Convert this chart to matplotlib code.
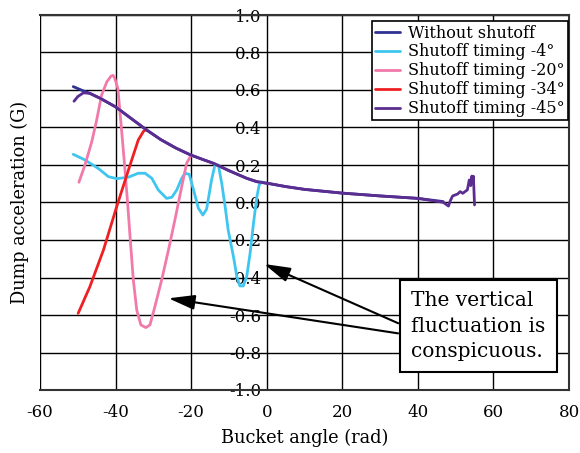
import matplotlib
matplotlib.use("Agg")
import matplotlib.pyplot as plt

plt.rcParams['font.family'] = ['DejaVu Serif']
plt.rcParams['axes.unicode_minus'] = False

# Data
main_x = [-51.2, -48.5, -46.8, -44.0, -40.0, -36.0, -31.8, -28.0, -24.0, -20.3, -17.0, -14.1, -10.0, -5.3, -2.6, 0.9, 5.0, 10.0, 20.0, 30.0, 40.0, 46.7]
main_y = [0.618, 0.595, 0.582, 0.555, 0.51, 0.45, 0.387, 0.335, 0.29, 0.255, 0.23, 0.209, 0.17, 0.129, 0.111, 0.10, 0.085, 0.07, 0.05, 0.035, 0.022, 0.005]

p45_x = [-51.0, -50.0, -48.5, -46.8, -44.0, -40.0, -36.0, -31.8, -28.0, -24.0, -20.3, -17.0, -14.1, -10.0, -5.3, -2.6, 0.9, 5.0, 10.0, 20.0, 30.0, 40.0, 46.7, 48.1, 48.6, 49.2, 50.5, 51.2, 51.9, 52.6, 53.1, 53.6, 54.0, 54.3, 54.5, 54.7, 55.0]
p45_y = [0.54, 0.565, 0.585, 0.582, 0.555, 0.51, 0.45, 0.387, 0.335, 0.29, 0.255, 0.23, 0.209, 0.17, 0.129, 0.111, 0.10, 0.085, 0.07, 0.05, 0.035, 0.022, 0.001, -0.019, 0.01, 0.035, 0.045, 0.058, 0.049, 0.06, 0.067, 0.12, 0.09, 0.141, 0.111, 0.14, -0.013]

c4_x = [-51.2, -48.1, -44.6, -41.9, -39.7, -36.6, -34.0, -32.2, -30.4, -28.7, -26.5, -25.1, -23.8, -22.5, -21.6, -20.5, -19.4, -18.1, -16.9, -15.9, -14.6, -13.7, -12.8, -11.9, -11.0, -10.2, -8.8, -7.9, -7.1, -6.2, -5.3, -4.4, -3.5, -2.6, -2.0, -1.3]
c4_y = [0.257, 0.227, 0.182, 0.138, 0.127, 0.135, 0.156, 0.156, 0.129, 0.067, 0.022, 0.028, 0.067, 0.129, 0.156, 0.15, 0.07, -0.03, -0.067, -0.035, 0.12, 0.2, 0.2, 0.102, -0.022, -0.147, -0.289, -0.396, -0.445, -0.445, -0.396, -0.271, -0.111, 0.031, 0.093, 0.111]

p20_x = [-49.7, -48.1, -46.3, -45.0, -43.7, -42.3, -41.2, -40.7, -40.3, -39.4, -38.6, -37.7, -36.9, -36.1, -35.3, -34.4, -33.3, -32.0, -30.9, -29.6, -27.8, -26.0, -24.3, -22.5, -21.2, -20.0]
p20_y = [0.108, 0.2, 0.324, 0.44, 0.573, 0.644, 0.674, 0.678, 0.668, 0.609, 0.431, 0.22, 0.02, -0.2, -0.413, -0.573, -0.653, -0.667, -0.653, -0.556, -0.413, -0.253, -0.093, 0.084, 0.209, 0.253]

r34_x = [-49.9, -46.8, -43.2, -39.7, -36.6, -34.0, -32.6, -31.8]
r34_y = [-0.591, -0.449, -0.253, -0.022, 0.173, 0.333, 0.38, 0.39]

labels = ["Without shutoff", "Shutoff timing -4°", "Shutoff timing -20°", "Shutoff timing -34°", "Shutoff timing -45°"]
colors = ["#2e3192", "#3fc6f0", "#f27aaa", "#ee2024", "#5c2d91"]

xticks = [-60, -40, -20, 0, 20, 40, 60, 80]
yticks = [-1.0, -0.8, -0.6, -0.4, -0.2, 0.0, 0.2, 0.4, 0.6, 0.8, 1.0]

fig = plt.figure(figsize=(5.8, 4.53), dpi=100)
ax = fig.add_axes([40/580, 1-390/453, 529/580, 375/453])

kw = dict(lw=2, solid_joinstyle='round', solid_capstyle='round')
ax.plot(main_x, main_y, color=colors[0], label=labels[0], zorder=3, **kw)
ax.plot(c4_x, c4_y, color=colors[1], label=labels[1], zorder=3, **kw)
ax.plot(p20_x, p20_y, color=colors[2], label=labels[2], zorder=3, **kw)
ax.plot(r34_x, r34_y, color=colors[3], label=labels[3], zorder=3, **kw)
ax.plot(p45_x, p45_y, color=colors[4], label=labels[4], zorder=4, **kw)

ax.set_xlim(-60, 80)
ax.set_ylim(-1.0, 1.0)
ax.set_xticks(xticks)
ax.set_yticks(yticks)
ax.set_yticklabels([f"{v:.1f}" for v in yticks])
ax.grid(True, color='black', lw=1, zorder=1)
ax.set_axisbelow(True)
ax.spines['left'].set_position(('data', 0))
ax.spines['left'].set_visible(False)
for s in ['top', 'right', 'bottom']:
    ax.spines[s].set_linewidth(1.5)
    ax.spines[s].set_color('#333333')
ax.tick_params(axis='both', length=0, labelsize=12)
ax.tick_params(axis='x', pad=10)
ax.tick_params(axis='y', pad=4)
ax.set_xlabel("Bucket angle (rad)", fontsize=12.8, labelpad=6)
ax.set_ylabel("Dump acceleration (G)", fontsize=12.8)
ax.yaxis.set_label_coords(-0.02, 0.5)

leg = ax.legend(loc='upper right', bbox_to_anchor=(0.9985, 0.983), fontsize=11.5, frameon=True,
                fancybox=False, edgecolor='black', framealpha=1, borderpad=0.2,
                labelspacing=0.12, handlelength=1.6, handletextpad=0.5, borderaxespad=0)
leg.get_frame().set_linewidth(1.2)

ap = dict(arrowstyle='-|>,head_length=1.6,head_width=0.45', lw=1.5, color='black', shrinkA=0, shrinkB=0)
ax.annotate('', xy=(-0.7, -0.328), xytext=(34.8, -0.644), arrowprops=ap, zorder=5)
ax.annotate('', xy=(-26.0, -0.511), xytext=(34.8, -0.698), arrowprops=ap, zorder=5)
ax.text(56.0, -0.659, "The vertical\nfluctuation is\nconspicuous.", fontsize=14.5, va='center', ha='center',
        multialignment='left', linespacing=1.45, zorder=6,
        bbox=dict(boxstyle='square,pad=0.55', facecolor='white', edgecolor='black', lw=1.5))

fig.savefig("out.png", dpi=100)
